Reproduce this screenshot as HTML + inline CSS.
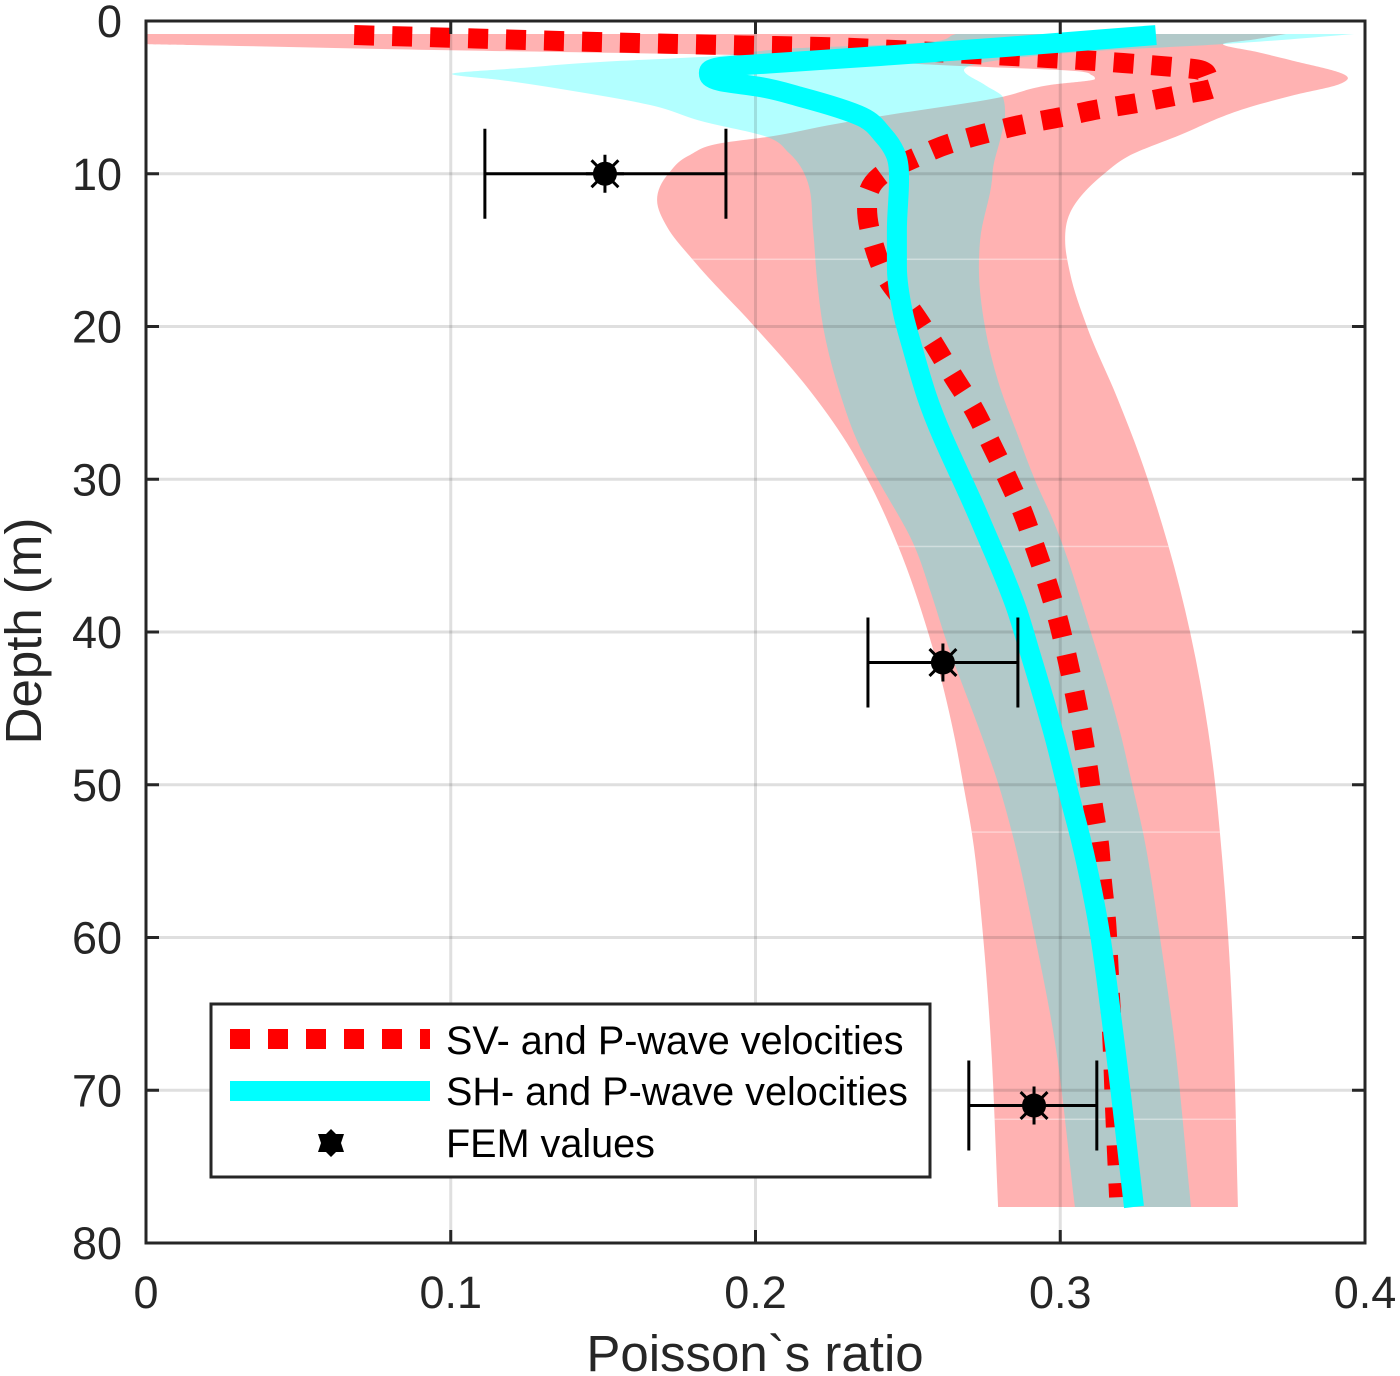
<!DOCTYPE html>
<html lang="en">
<head>
<meta charset="utf-8">
<title>Poisson's ratio versus depth</title>
<style>
html,body{margin:0;padding:0;background:#fff;}
svg{display:block;font-family:"Liberation Sans",Arial,sans-serif;}
</style>
</head>
<body>
<svg id="chart" xmlns="http://www.w3.org/2000/svg" width="1400" height="1376" viewBox="0 0 1400 1376">
  <defs>
    <clipPath id="axes-clip"><rect x="146" y="21" width="1219" height="1222"/></clipPath>
    <clipPath id="red-band-clip"><path id="red-band-clip-path" d=""/></clipPath>
  </defs>
  <rect x="0" y="0" width="1400" height="1376" fill="#ffffff"/>
  <g id="bands" clip-path="url(#axes-clip)"></g>
  <g id="grid"></g>
  <g id="series" clip-path="url(#axes-clip)"></g>
  <g id="fem"></g>
  <g id="axes"></g>
  <text x="755" y="1371" font-size="51" fill="#262626" text-anchor="middle">Poisson`s ratio</text>
  <text x="0" y="0" transform="translate(41,631) rotate(-90)" font-size="51" fill="#262626" text-anchor="middle">Depth (m)</text>
  <g id="legend">
    <rect x="211" y="1004" width="719" height="173" fill="#ffffff" stroke="#262626" stroke-width="3"/>
    <line x1="230" y1="1039" x2="430" y2="1039" stroke="#ff0000" stroke-width="20" stroke-dasharray="20 18"/>
    <text x="446" y="1054" font-size="39.6" fill="#000000">SV- and P-wave velocities</text>
    <line x1="230" y1="1091" x2="430" y2="1091" stroke="#00ffff" stroke-width="20"/>
    <text x="446" y="1105" font-size="39.6" fill="#000000">SH- and P-wave velocities</text>
    <polygon fill="#000000" points="331,1129 336,1134 344,1134 341,1143 344,1152 336,1152 331,1157 326,1152 318,1152 321,1143 318,1134 326,1134"/>
    <text x="446" y="1157" font-size="39.6" fill="#000000">FEM values</text>
  </g>
</svg>
<script>
// Axis tick data
const xTicks = [0, 0.1, 0.2, 0.3, 0.4];
const xTickLabels = ['0', '0.1', '0.2', '0.3', '0.4'];
const yTicks = [0, 10, 20, 30, 40, 50, 60, 70, 80];
const yTickLabels = ['0', '10', '20', '30', '40', '50', '60', '70', '80'];

// Red band (SV- and P-wave) lower and upper bounds
const redLowerDepth = [0.85, 1.51, 1.57, 1.70, 1.83, 2.03, 2.23, 2.55, 2.95, 3.15, 3.27, 3.55, 3.80, 4.19, 4.98, 6.22, 6.81, 7.59, 7.99, 8.77, 9.95, 11.72, 13.49, 15.65, 20.03, 23.96, 27.63, 30.05, 34.37, 40.0, 47.07, 49.89, 53.16, 59.97, 66.05, 77.64];
const redLowerValue = [0, 0, 0.0148, 0.0469, 0.0771, 0.1358, 0.1956, 0.2310, 0.2671, 0.2934, 0.3048, 0.3104, 0.3114, 0.2966, 0.2806, 0.2415, 0.2244, 0.2038, 0.1890, 0.1785, 0.1716, 0.1677, 0.1710, 0.1795, 0.1998, 0.2169, 0.2300, 0.2369, 0.2468, 0.2566, 0.2655, 0.2681, 0.2710, 0.2747, 0.2770, 0.2796];
const redUpperDepth = [0.85, 1.2, 1.51, 2.0, 2.55, 3.73, 4.12, 4.84, 5.63, 7.46, 8.90, 9.95, 12.57, 14.34, 16.5, 20.03, 24.62, 28.54, 30.05, 34.3, 40.0, 46.4, 49.89, 53.16, 59.97, 66.05, 77.64];
const redUpperValue = [0.3741, 0.3639, 0.3534, 0.3639, 0.3754, 0.3944, 0.3918, 0.3770, 0.3623, 0.3393, 0.3219, 0.3147, 0.3032, 0.3016, 0.3032, 0.3088, 0.3186, 0.3262, 0.3288, 0.3354, 0.3426, 0.3485, 0.3508, 0.3524, 0.3551, 0.3567, 0.3583];

// Cyan band (SH- and P-wave) lower and upper bounds
const cyanLowerDepth = [0.85, 1.44, 1.77, 2.36, 2.68, 3.08, 3.47, 3.86, 4.65, 5.50, 6.55, 7.59, 8.64, 10.41, 13.68, 16.96, 20.03, 24.35, 27.89, 30.05, 34.44, 37.45, 40.33, 47.07, 49.89, 53.16, 59.97, 66.05, 77.64];
const cyanLowerValue = [0.2658, 0.2540, 0.2146, 0.1818, 0.1490, 0.1227, 0.1004, 0.1162, 0.1421, 0.1654, 0.1821, 0.2038, 0.2110, 0.2169, 0.2189, 0.2202, 0.2222, 0.2277, 0.2343, 0.2402, 0.2523, 0.2576, 0.2622, 0.2747, 0.2796, 0.2842, 0.2917, 0.2976, 0.3048];
const cyanUpperDepth = [0.85, 1.2, 1.51, 1.95, 2.55, 3.21, 4.19, 5.0, 6.2, 7.59, 9.7, 10.41, 14.34, 16.1, 20.03, 23.96, 26.97, 30.05, 32.67, 39.87, 47.07, 49.89, 53.16, 59.97, 66.05, 77.64];
const cyanUpperValue = [0.3964, 0.3754, 0.3534, 0.3130, 0.2802, 0.2684, 0.2753, 0.2812, 0.2819, 0.2805, 0.2779, 0.2776, 0.2737, 0.2733, 0.2753, 0.2802, 0.2858, 0.2917, 0.2976, 0.3098, 0.3203, 0.3235, 0.3272, 0.3327, 0.3370, 0.3429];

// Depths of the faint horizontal seams in the red band
const seamDepths = [15.6, 34.4, 53.1, 71.9];

// SV- and P-wave curve
const svDepth = [0.92, 1.60, 1.70, 1.90, 2.16, 2.42, 2.75, 2.95, 3.21, 3.67, 4.32, 4.91, 5.37, 5.76, 6.28, 6.74, 7.33, 7.99, 8.90, 10.15, 12.24, 14.73, 16.96, 18.99, 21.08, 23.24, 25.34, 27.56, 29.85, 32.08, 34.44, 36.79, 39.21, 41.64, 44.06, 46.48, 48.97, 51.46, 53.88, 56.37, 58.85, 61.34, 63.76, 66.25, 71.3, 77.0];
const svValue = [0.0683, 0.1962, 0.2215, 0.2458, 0.2710, 0.2960, 0.3206, 0.3334, 0.3459, 0.3485, 0.3505, 0.3373, 0.3252, 0.3130, 0.3006, 0.2884, 0.2760, 0.2642, 0.2530, 0.2409, 0.2366, 0.2389, 0.2435, 0.2514, 0.2583, 0.2648, 0.2714, 0.2770, 0.2825, 0.2875, 0.2917, 0.2957, 0.2993, 0.3022, 0.3048, 0.3071, 0.3091, 0.3108, 0.3127, 0.3137, 0.3150, 0.3157, 0.3163, 0.3170, 0.3180, 0.3193];

// SH- and P-wave curve
const shDepth = [0.92, 1.70, 2.29, 2.82, 3.01, 3.40, 3.93, 4.32, 4.98, 6.28, 7.46, 8.64, 10.41, 13.68, 16.10, 19.12, 21.34, 24.62, 32.67, 38.56, 41.38, 47.07, 50.34, 53.62, 58.66, 66.05, 77.64];
const shValue = [0.3314, 0.2819, 0.2409, 0.2015, 0.1884, 0.1847, 0.1884, 0.2015, 0.2149, 0.2350, 0.2418, 0.2458, 0.2471, 0.2464, 0.2464, 0.2484, 0.2514, 0.2563, 0.2737, 0.2858, 0.2901, 0.2984, 0.3025, 0.3068, 0.3121, 0.3173, 0.3242];

// FEM values and their error bars
const femDepth = [10, 42, 71];
const femValue = [0.1506, 0.2615, 0.2914];
const femLow = [0.1112, 0.2369, 0.2700];
const femHigh = [0.1903, 0.2861, 0.3120];

const X_LEFT = 146, X_RIGHT = 1365, Y_TOP = 21, Y_BOTTOM = 1243;
const X_MIN = 0, X_MAX = 0.4, Y_MIN = 0, Y_MAX = 80;
function xScale(v) { return X_LEFT + (v - X_MIN) / (X_MAX - X_MIN) * (X_RIGHT - X_LEFT); }
function yScale(d) { return Y_TOP + (d - Y_MIN) / (Y_MAX - Y_MIN) * (Y_BOTTOM - Y_TOP); }

const NS = 'http://www.w3.org/2000/svg';
function make(tag, parent, attrs) {
  const node = document.createElementNS(NS, tag);
  for (const key in attrs) node.setAttribute(key, attrs[key]);
  parent.appendChild(node);
  return node;
}
function toPoints(depths, values) {
  return depths.map(function (d, i) { return [xScale(values[i]), yScale(d)]; });
}
// Cubic of x as a function of y: three-point tangents, limited so extremes stay rounded without overshoot
function curveSegments(pts) {
  const n = pts.length, h = [], s = [], m = [];
  for (let i = 0; i < n - 1; i++) {
    h[i] = pts[i + 1][1] - pts[i][1];
    s[i] = (pts[i + 1][0] - pts[i][0]) / h[i];
  }
  m[0] = s[0];
  m[n - 1] = s[n - 2];
  for (let i = 1; i < n - 1; i++) {
    if (s[i - 1] * s[i] <= 0) { m[i] = 0; continue; }
    const a = Math.abs(h[i - 1]), b = Math.abs(h[i]);
    const raw = (s[i - 1] * b + s[i] * a) / (a + b);
    const cap = 3 * Math.min(Math.abs(s[i - 1]), Math.abs(s[i]));
    m[i] = Math.sign(raw) * Math.min(Math.abs(raw), cap);
  }
  let out = '';
  for (let i = 0; i < n - 1; i++) {
    const t = h[i] / 3;
    out += 'C' + (pts[i][0] + m[i] * t).toFixed(2) + ' ' + (pts[i][1] + t).toFixed(2) + ' ' +
      (pts[i + 1][0] - m[i + 1] * t).toFixed(2) + ' ' + (pts[i + 1][1] - t).toFixed(2) + ' ' +
      pts[i + 1][0].toFixed(2) + ' ' + pts[i + 1][1].toFixed(2);
  }
  return out;
}
function linePath(depths, values) {
  const pts = toPoints(depths, values);
  return 'M' + pts[0][0].toFixed(2) + ' ' + pts[0][1].toFixed(2) + curveSegments(pts);
}
function bandPath(upD, upV, loD, loV) {
  const up = toPoints(upD, upV);
  const lo = toPoints(loD, loV).reverse();
  return 'M' + up[0][0].toFixed(2) + ' ' + up[0][1].toFixed(2) + curveSegments(up) +
    'L' + lo[0][0].toFixed(2) + ' ' + lo[0][1].toFixed(2) + curveSegments(lo) + 'Z';
}

const bandsGroup = document.getElementById('bands');
const gridGroup = document.getElementById('grid');
const seriesGroup = document.getElementById('series');
const femGroup = document.getElementById('fem');
const axesGroup = document.getElementById('axes');

// Bands
const redD = bandPath(redUpperDepth, redUpperValue, redLowerDepth, redLowerValue);
document.getElementById('red-band-clip-path').setAttribute('d', redD);
const redBand = make('path', bandsGroup, { d: redD, fill: '#ff0000', 'fill-opacity': 0.3 });


const cyanBand = make('path', bandsGroup, { d: bandPath(cyanUpperDepth, cyanUpperValue, cyanLowerDepth, cyanLowerValue), fill: '#00ffff', 'fill-opacity': 0.3 });


const seamGroup = make('g', bandsGroup, { 'clip-path': 'url(#red-band-clip)' });
seamDepths.forEach(function (d) {
  const seam = make('rect', seamGroup, { x: X_LEFT, y: yScale(d) - 0.75, width: X_RIGHT - X_LEFT, height: 1.5, fill: '#ffffff', 'fill-opacity': 0.4 });
  
  
});

// Grid
xTicks.slice(1, -1).forEach(function (v) {
  const g = make('line', gridGroup, { x1: xScale(v), x2: xScale(v), y1: Y_TOP, y2: Y_BOTTOM, stroke: '#262626', 'stroke-opacity': 0.15, 'stroke-width': 3 });
  
  
});
yTicks.slice(1, -1).forEach(function (d) {
  const g = make('line', gridGroup, { x1: X_LEFT, x2: X_RIGHT, y1: yScale(d), y2: yScale(d), stroke: '#262626', 'stroke-opacity': 0.15, 'stroke-width': 3 });
  
  
});

// Curves
const svLine = make('path', seriesGroup, { d: linePath(svDepth, svValue), fill: 'none', stroke: '#ff0000', 'stroke-width': 20, 'stroke-dasharray': '20 18' });


const shLine = make('path', seriesGroup, { d: linePath(shDepth, shValue), fill: 'none', stroke: '#00ffff', 'stroke-width': 20, 'stroke-linejoin': 'round' });



// FEM markers with error bars
femDepth.forEach(function (d, i) {
  const cx = xScale(femValue[i]), cy = yScale(d), xl = xScale(femLow[i]), xh = xScale(femHigh[i]);
  const bar = make('path', femGroup, {
    d: 'M' + xl + ' ' + cy + 'H' + xh + 'M' + xl + ' ' + (cy - 45) + 'V' + (cy + 45) + 'M' + xh + ' ' + (cy - 45) + 'V' + (cy + 45),
    fill: 'none', stroke: '#000000', 'stroke-width': 3
  });
  
  
  let spokes = '';
  for (let k = 0; k < 8; k++) {
    const a = k * Math.PI / 4;
    spokes += 'M' + cx + ' ' + cy + 'L' + (cx + 19 * Math.cos(a)).toFixed(2) + ' ' + (cy + 19 * Math.sin(a)).toFixed(2);
  }
  const star = make('path', femGroup, { d: spokes, fill: 'none', stroke: '#000000', 'stroke-width': 3 });
  
  
  const dot = make('circle', femGroup, { cx: cx, cy: cy, r: 12, fill: '#000000' });
  
  
});

// Axes box, ticks, labels
const axisBox = make('rect', axesGroup, { x: X_LEFT, y: Y_TOP, width: X_RIGHT - X_LEFT, height: Y_BOTTOM - Y_TOP, fill: 'none', stroke: '#262626', 'stroke-width': 3 });


xTicks.forEach(function (v, i) {
  const x = xScale(v);
  const t = make('path', axesGroup, { d: 'M' + x + ' ' + Y_BOTTOM + 'v-13M' + x + ' ' + Y_TOP + 'v13', stroke: '#262626', 'stroke-width': 3, fill: 'none' });
  
  
  const label = make('text', axesGroup, { x: x, y: 1308, 'font-size': 45, fill: '#262626', 'text-anchor': 'middle' });
  label.textContent = xTickLabels[i];
  
  
});
yTicks.forEach(function (d, i) {
  const y = yScale(d);
  const t = make('path', axesGroup, { d: 'M' + X_LEFT + ' ' + y + 'h13M' + X_RIGHT + ' ' + y + 'h-13', stroke: '#262626', 'stroke-width': 3, fill: 'none' });
  
  
  const label = make('text', axesGroup, { x: 122, y: y + 16, 'font-size': 45, fill: '#262626', 'text-anchor': 'end' });
  label.textContent = yTickLabels[i];
  
  
});
</script>
</body>
</html>
